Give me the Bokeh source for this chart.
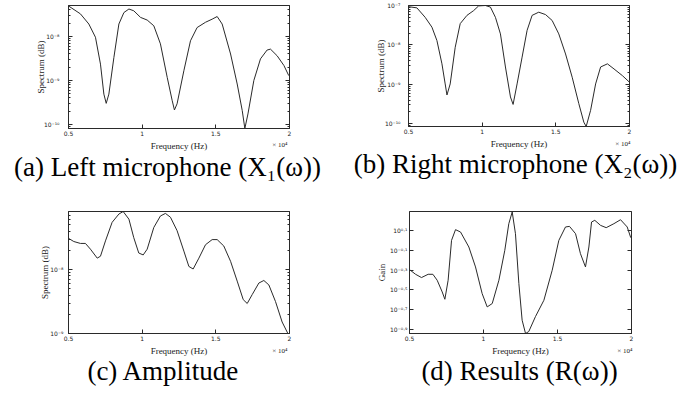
from bokeh.plotting import figure
from bokeh.layouts import column, row
from bokeh.models import FixedTicker, Label, LogAxis, LinearAxis, Range1d
from bokeh.embed import file_html
from bokeh.resources import INLINE

# Frequency in units of 10^4 Hz; spectra given as log10 exponents
freq_a = [0.5, 0.581, 0.638, 0.683, 0.717, 0.740, 0.756, 0.774, 0.808, 0.842, 0.876, 0.910, 0.943, 0.989,
          1.034, 1.079, 1.124, 1.170, 1.204, 1.219, 1.237, 1.283, 1.328, 1.373, 1.430, 1.475, 1.509, 1.543,
          1.600, 1.645, 1.679, 1.697, 1.718, 1.758, 1.803, 1.848, 1.871, 1.916, 1.962, 1.995]
exp_a = [-7.31, -7.49, -7.72, -8.02, -8.63, -9.31, -9.52, -9.31, -8.48, -7.72, -7.46, -7.38, -7.42, -7.57,
         -7.63, -7.76, -8.17, -8.93, -9.46, -9.67, -9.53, -8.78, -8.10, -7.80, -7.68, -7.61, -7.55, -7.72,
         -8.40, -9.08, -9.68, -10.09, -9.76, -9.00, -8.51, -8.31, -8.29, -8.44, -8.66, -8.89]

freq_b = [0.5, 0.557, 0.613, 0.659, 0.693, 0.727, 0.749, 0.761, 0.783, 0.817, 0.851, 0.897, 0.942, 0.976,
          1.022, 1.056, 1.090, 1.124, 1.158, 1.192, 1.210, 1.237, 1.271, 1.305, 1.339, 1.384, 1.430, 1.475,
          1.520, 1.566, 1.611, 1.656, 1.690, 1.706, 1.736, 1.770, 1.804, 1.850, 1.895, 1.952, 1.998]
exp_b = [-7.03, -7.06, -7.30, -7.55, -7.89, -8.48, -8.99, -9.27, -8.99, -8.06, -7.46, -7.25, -7.13, -7.01,
         -7.00, -7.04, -7.30, -7.72, -8.56, -9.32, -9.51, -8.99, -8.31, -7.63, -7.25, -7.17, -7.23, -7.38,
         -7.72, -8.23, -8.82, -9.49, -9.96, -10.07, -9.66, -8.99, -8.56, -8.48, -8.61, -8.78, -8.94]

freq_c = [0.5, 0.536, 0.581, 0.615, 0.649, 0.695, 0.717, 0.751, 0.796, 0.842, 0.871, 0.910, 0.943, 0.977,
          1.007, 1.034, 1.079, 1.124, 1.158, 1.192, 1.237, 1.283, 1.317, 1.346, 1.385, 1.430, 1.475, 1.509,
          1.554, 1.600, 1.645, 1.686, 1.713, 1.747, 1.792, 1.826, 1.860, 1.905, 1.950, 1.989]
exp_c = [-7.51, -7.56, -7.59, -7.59, -7.68, -7.82, -7.79, -7.55, -7.26, -7.13, -7.09, -7.21, -7.50, -7.74,
         -7.77, -7.68, -7.34, -7.16, -7.12, -7.18, -7.39, -7.71, -7.95, -7.99, -7.82, -7.61, -7.53, -7.53,
         -7.63, -7.87, -8.18, -8.47, -8.53, -8.39, -8.21, -8.17, -8.24, -8.50, -8.82, -9.00]

freq_d = [0.5, 0.541, 0.581, 0.626, 0.658, 0.687, 0.721, 0.739, 0.761, 0.784, 0.811, 0.845, 0.901, 0.946,
          0.991, 1.025, 1.059, 1.104, 1.144, 1.171, 1.194, 1.216, 1.239, 1.261, 1.284, 1.306, 1.351, 1.408,
          1.464, 1.509, 1.554, 1.581, 1.622, 1.655, 1.689, 1.712, 1.730, 1.752, 1.791, 1.829, 1.881, 1.926,
          1.971, 1.995]
exp_d = [-0.296, -0.343, -0.376, -0.343, -0.343, -0.403, -0.521, -0.595, -0.403, -0.001, 0.107, 0.083,
         -0.068, -0.269, -0.538, -0.672, -0.638, -0.403, -0.101, 0.167, 0.285, 0.066, -0.437, -0.806, -0.94,
         -0.92, -0.77, -0.605, -0.303, -0.001, 0.134, 0.140, 0.066, -0.135, -0.269, -0.068, 0.184, 0.201,
         0.150, 0.127, 0.167, 0.207, 0.134, 0.026]

x_ticks = [0.5, 1.0, 1.5, 2.0]
x_tick_labels = ["0.5", "1", "1.5", "2"]

ticks_a = [-8, -9, -10]
ticks_b = [-7, -8, -9, -10]
ticks_c = [-8, -9]
ticks_d = [0.1, -0.1, -0.3, -0.5, -0.7, -0.9]

captions = ["(a) Left microphone (X\u2081(\u03c9))", "(b) Right microphone (X\u2082(\u03c9))",
            "(c) Amplitude", "(d) Results (R(\u03c9))"]

SUP = {"-": "\u207b", "0": "\u2070", "1": "\u00b9", "2": "\u00b2", "3": "\u00b3", "4": "\u2074",
       "5": "\u2075", "6": "\u2076", "7": "\u2077", "8": "\u2078", "9": "\u2079", ".": "\u00b7"}


def sup(s):
    return "".join(SUP[c] for c in s)


def exp_label(e):
    return "10" + sup("%g" % e)


LINE = "#2a2a2a"
SERIF = "Liberation Serif"
SANS = "DejaVu Sans"


def panel(fx, ex, lo, hi, yexps, minor, ylabel, caption, left, top, fw, fh, right, bottom,
          ystand, ylab_stand, cap_x, cap_y, mult_x, mult_y):
    p = figure(frame_width=fw, frame_height=fh, min_border_left=left, min_border_right=right,
               min_border_top=top, min_border_bottom=bottom, y_axis_type="log",
               x_range=Range1d(0.5, 2.0), y_range=Range1d(10 ** lo, 10 ** hi),
               output_backend="svg", toolbar_location=None)
    p.outline_line_color = LINE
    p.outline_line_width = 1
    p.grid.visible = False
    p.background_fill_color = "white"
    p.border_fill_color = "white"
    p.line(fx, [10 ** e for e in ex], line_color=LINE, line_width=1)

    yt = [10 ** e for e in yexps]
    xa = p.xaxis[0]
    xa.ticker = FixedTicker(ticks=x_ticks)
    xa.major_label_overrides = dict(zip(x_ticks, x_tick_labels))
    xa.axis_label = "Frequency (Hz)"
    ya = p.yaxis[0]
    ya.ticker = FixedTicker(ticks=yt, minor_ticks=minor)
    ya.major_label_overrides = {t: exp_label(e) for t, e in zip(yt, yexps)}
    ya.axis_label = ylabel
    for ax in (xa, ya):
        ax.axis_line_color = LINE
        ax.major_tick_in = 4
        ax.major_tick_out = 0
        ax.major_tick_line_color = LINE
        ax.minor_tick_in = 2
        ax.minor_tick_out = 0
        ax.minor_tick_line_color = LINE
        ax.major_label_text_font = SANS
        ax.major_label_text_font_size = "6px"
        ax.major_label_text_color = "#222"
        ax.axis_label_text_font = SERIF
        ax.axis_label_text_font_size = "9px"
        ax.axis_label_text_font_style = "normal"
        ax.axis_label_text_color = "#222"
    xa.minor_tick_line_color = None
    xa.major_label_standoff = 2
    xa.axis_label_standoff = 2
    ya.major_label_standoff = ystand
    ya.axis_label_standoff = ylab_stand

    # mirrored ticks on right (box style)
    ra = LogAxis(ticker=FixedTicker(ticks=yt, minor_ticks=minor), major_label_text_font_size="2px",
                 major_label_text_alpha=0, major_label_standoff=0, major_tick_in=4, major_tick_out=0,
                 minor_tick_in=2, minor_tick_out=0, axis_line_color=LINE, major_tick_line_color=LINE,
                 minor_tick_line_color=LINE)
    p.add_layout(ra, "right")

    # labels stacked in the panel below the x axis
    p.add_layout(Label(x=mult_x, y=mult_y, x_units="screen", y_units="screen", text="\u00d7 10\u2074",
                       text_align="right", text_font=SERIF, text_font_size="7px", text_color="#222"),
                 "below")
    p.add_layout(Label(x=cap_x, y=cap_y, x_units="screen", y_units="screen", text=caption,
                       text_align="center", text_font=SERIF, text_font_size="27px", text_color="black"),
                 "below")
    return p


def minor_ticks(lo_dec, hi_dec):
    out = []
    for d in range(lo_dec, hi_dec + 1):
        for m in range(2, 10):
            out.append(m * 10.0 ** d)
    return out


pa = panel(freq_a, exp_a, -10.09, -7.30, ticks_a, minor_ticks(-11, -8), "Spectrum (dB)", captions[0],
           68, 2, 221, 123, 56, 75, 9, -5, 99, 10, 219, 13)
pb = panel(freq_b, exp_b, -10.07, -7.0, ticks_b, minor_ticks(-11, -8), "Spectrum (dB)", captions[1],
           63, 5, 221, 121, 62, 74, 8, -4, 107, 11, 222, 12)
pc = panel(freq_c, exp_c, -9.0, -7.09, ticks_c, minor_ticks(-10, -8), "Spectrum (dB)", captions[2],
           68, 11, 221, 122, 56, 68, 5, -3, 95, 11, 219, 12)
pd = panel(freq_d, exp_d, -0.94, 0.29, ticks_d, [], "Gain", captions[3],
           64, 11, 222, 122, 60, 68, 2, 0, 110, 11, 223, 12)

layout = column(row(pa, pb), row(pc, pd))
open("out.html", "w").write(file_html(layout, INLINE))
